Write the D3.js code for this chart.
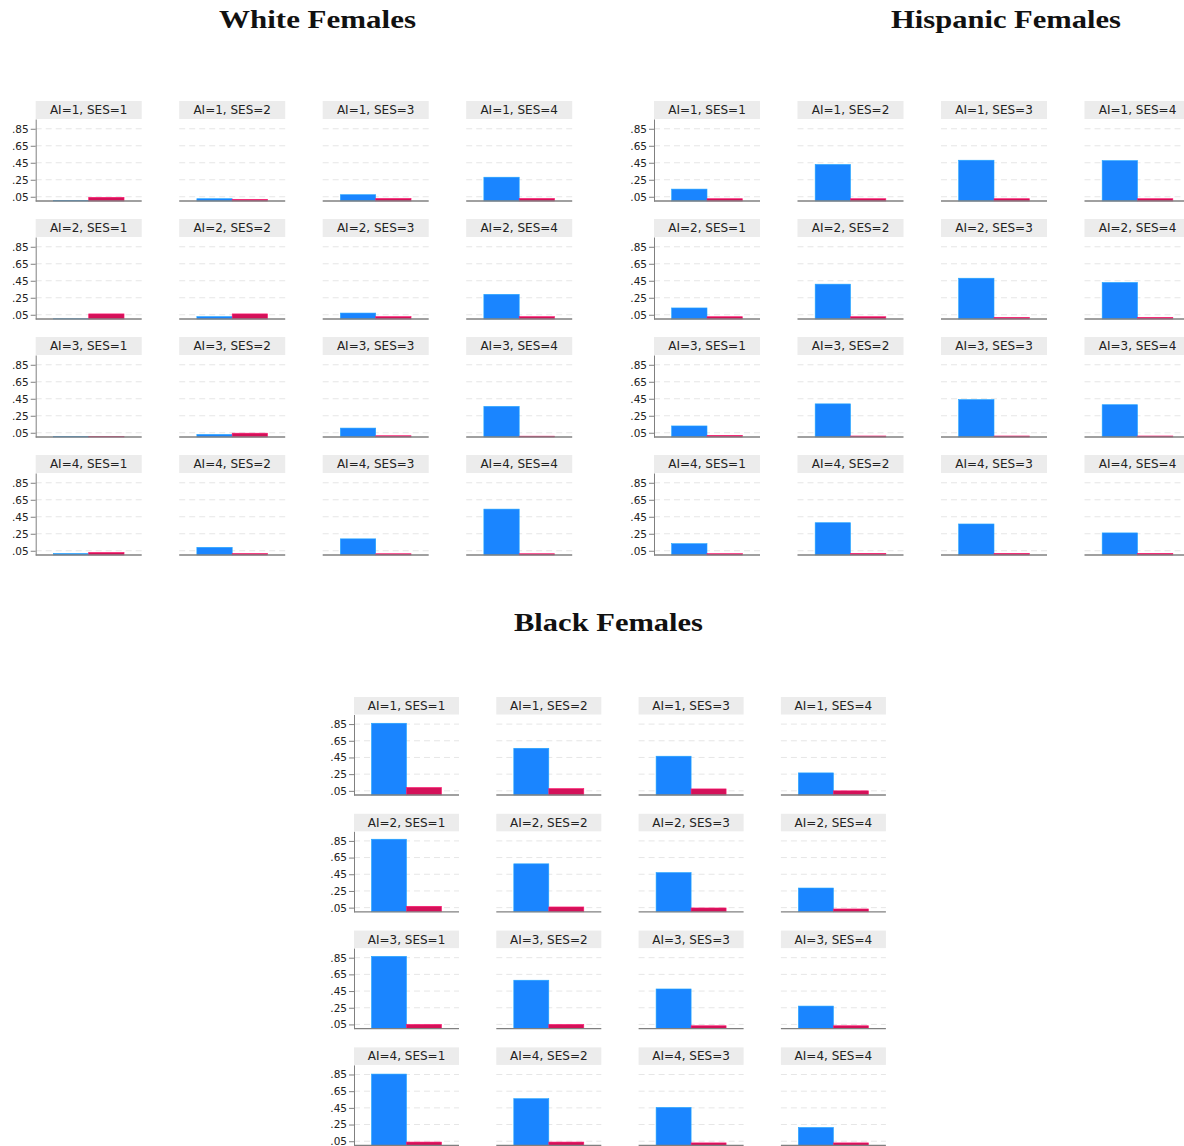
<!DOCTYPE html>
<html>
<head>
<meta charset="utf-8">
<script src="https://cdn.jsdelivr.net/npm/d3@7"></script>
<style>
  body { margin: 0; background: #fff; }
  svg { display: block; }
</style>
</head>
<body>
<div id="chart"></div>
<script>
// panel grid: rows = AI level, columns = SES level
var aiLevels = [1, 2, 3, 4];
var sesLevels = [1, 2, 3, 4];
var seriesKeys = ["blue", "red"];
var yTicks = [0.05, 0.25, 0.45, 0.65, 0.85];

// values, one row per AI level, SES 1..4
var whiteBlue = [
  [0.005, 0.027, 0.074, 0.28],
  [0.003, 0.028, 0.07, 0.29],
  [0.005, 0.03, 0.105, 0.36],
  [0.018, 0.09, 0.19, 0.54]
];
var whiteRed = [
  [0.043, 0.02, 0.03, 0.03],
  [0.06, 0.06, 0.028, 0.028],
  [0.005, 0.045, 0.015, 0.01],
  [0.03, 0.018, 0.015, 0.015]
];
var hispBlue = [
  [0.14, 0.43, 0.48, 0.475],
  [0.13, 0.41, 0.48, 0.43],
  [0.13, 0.39, 0.44, 0.38],
  [0.133, 0.38, 0.365, 0.26]
];
var hispRed = [
  [0.027, 0.027, 0.027, 0.027],
  [0.027, 0.027, 0.02, 0.02],
  [0.02, 0.012, 0.012, 0.012],
  [0.016, 0.02, 0.02, 0.02]
];
var blackBlue = [
  [0.86, 0.56, 0.465, 0.265],
  [0.87, 0.575, 0.47, 0.285],
  [0.866, 0.58, 0.475, 0.27],
  [0.855, 0.56, 0.455, 0.215]
];
var blackRed = [
  [0.09, 0.077, 0.073, 0.05],
  [0.066, 0.058, 0.046, 0.034],
  [0.05, 0.05, 0.034, 0.034],
  [0.04, 0.04, 0.03, 0.03]
];

var colors = { blue: "#1A85FF", red: "#D41159" };

var svg = d3.select("#chart").append("svg")
  .attr("width", 1184)
  .attr("height", 1146);

var fmt = function(d) { return d3.format(".2f")(d).replace(/^0/, ""); };

function drawGroup(cfg) {
  var g = svg.append("g");

  g.append("text")
    .attr("x", cfg.titleX)
    .attr("y", cfg.titleY)
    .attr("text-anchor", "middle")
    .attr("font-family", "'Liberation Serif', 'DejaVu Serif', serif")
    .attr("font-weight", "bold")
    .attr("font-size", 26)
    .attr("textLength", cfg.titleW)
    .attr("lengthAdjust", "spacingAndGlyphs")
    .attr("fill", "#111")
    .text(cfg.title);

  var x = d3.scaleBand()
    .domain(seriesKeys)
    .range([0, cfg.plotW])
    .paddingInner(0)
    .paddingOuter(0.5);

  var y = d3.scaleLinear()
    .domain([0, 0.965])
    .range([cfg.plotH, 0]);

  aiLevels.forEach(function(ai, r) {
    sesLevels.forEach(function(ses, c) {
      var px = cfg.x0 + c * cfg.colStep;
      var py = cfg.y0 + r * cfg.rowStep;
      var panel = g.append("g").attr("transform", "translate(" + px + "," + py + ")");

      // strip
      panel.append("rect")
        .attr("width", cfg.plotW)
        .attr("height", cfg.stripH)
        .attr("fill", "#ececec");
      panel.append("text")
        .attr("x", cfg.plotW / 2)
        .attr("y", cfg.stripH / 2 + 4.3)
        .attr("text-anchor", "middle")
        .attr("font-family", "'DejaVu Sans', sans-serif")
        .attr("font-size", 12)
        .attr("fill", "#222")
        .text("AI=" + ai + ", SES=" + ses);

      var plot = panel.append("g").attr("transform", "translate(0," + cfg.stripH + ")");

      // dashed grid
      plot.selectAll(".grid")
        .data(yTicks)
        .enter().append("line")
        .attr("x1", 0)
        .attr("x2", cfg.plotW)
        .attr("y1", function(d) { return y(d); })
        .attr("y2", function(d) { return y(d); })
        .attr("stroke", "#e6e6e6")
        .attr("stroke-width", 1)
        .attr("stroke-dasharray", "6,4");

      var vals = [
        { key: "blue", v: cfg.blue[r][c] },
        { key: "red", v: cfg.red[r][c] }
      ];

      plot.selectAll(".bar")
        .data(vals)
        .enter().append("rect")
        .attr("x", function(d) { return x(d.key); })
        .attr("y", function(d) { return y(d.v); })
        .attr("width", x.bandwidth())
        .attr("height", function(d) { return cfg.plotH - y(d.v); })
        .attr("fill", function(d) { return colors[d.key]; })
        .attr("stroke", function(d) { return d3.color(colors[d.key]).brighter(0.6); })
        .attr("stroke-width", 0.6);

      // bottom axis line
      plot.append("line")
        .attr("x1", 0)
        .attr("x2", cfg.plotW)
        .attr("y1", cfg.plotH)
        .attr("y2", cfg.plotH)
        .attr("stroke", "#808080")
        .attr("stroke-width", 1.3);

      if (c === 0) {
        var yAxis = d3.axisLeft(y)
          .tickValues(yTicks)
          .tickFormat(fmt)
          .tickSize(5)
          .tickSizeOuter(0)
          .tickPadding(2);
        var ax = plot.append("g").call(yAxis);
        ax.select(".domain").attr("stroke", "#808080");
        ax.selectAll(".tick line").attr("stroke", "#808080");
        ax.selectAll(".tick text")
          .attr("font-family", "'DejaVu Sans', sans-serif")
          .attr("font-size", 10.5)
          .attr("fill", "#222");
      }
    });
  });
}

drawGroup({
  title: "White Females", titleX: 317.5, titleY: 28, titleW: 197,
  blue: whiteBlue, red: whiteRed,
  x0: 35.7, y0: 101, colStep: 143.5, rowStep: 118,
  stripH: 18, plotW: 106, plotH: 82
});

drawGroup({
  title: "Hispanic Females", titleX: 1006, titleY: 28, titleW: 230,
  blue: hispBlue, red: hispRed,
  x0: 654, y0: 101, colStep: 143.5, rowStep: 118,
  stripH: 18, plotW: 106, plotH: 82
});

drawGroup({
  title: "Black Females", titleX: 608.5, titleY: 631, titleW: 189,
  blue: blackBlue, red: blackRed,
  x0: 354, y0: 697, colStep: 142.3, rowStep: 116.8,
  stripH: 17.5, plotW: 105, plotH: 80.5
});
</script>
</body>
</html>
